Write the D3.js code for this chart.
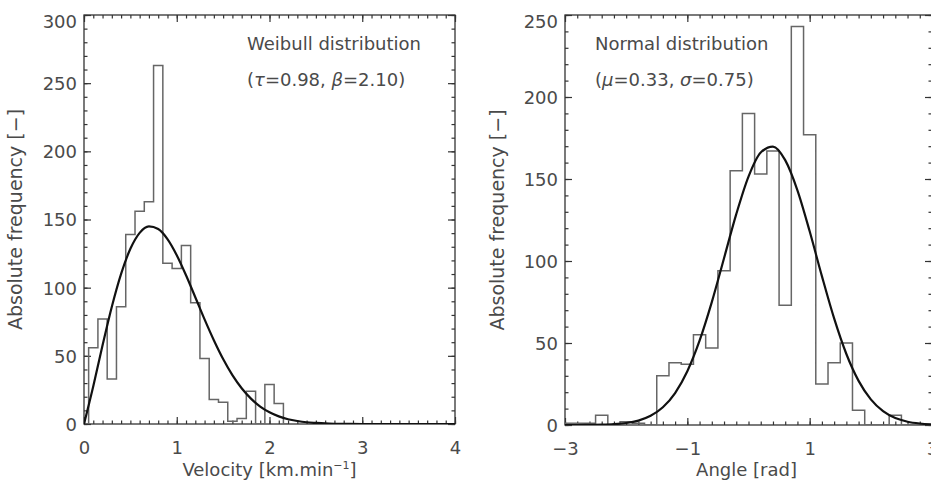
<!DOCTYPE html>
<html><head><meta charset="utf-8">
<script src="https://cdn.jsdelivr.net/npm/d3@7"></script>
<style>
body{margin:0;background:#fff}
svg text{font-family:"DejaVu Sans",sans-serif;fill:#4a4a4a}
</style>
</head><body>
<svg id="chart" width="931" height="482"></svg>
<script>
// ---- data ----
const velocityBinCenters = [0.0,0.1,0.2,0.3,0.4,0.5,0.6,0.7,0.8,0.9,1.0,1.1,1.2,1.3,1.4,1.5,1.6,1.7,1.8,1.9,2.0,2.1,2.2];
const velocityCounts     = [0,56,77,33,86,139,156,163,263,118,114,131,89,48,18,16,2,4,24,0,29,15,0];
const weibullX = [0,0.1,0.2,0.3,0.4,0.5,0.6,0.7,0.8,0.9,1.0,1.1,1.2,1.3,1.4,1.5,1.6,1.7,1.8,1.9,2.0,2.1,2.2,2.3,2.4,2.5,2.6,2.7,2.8,3.0,3.5,4.0];
const weibullY = [0,27.7,57.7,86.0,110.1,128.5,140.2,144.9,143.0,135.6,123.8,109.1,93.0,76.7,61.4,47.6,35.8,26.2,18.6,12.8,8.6,5.6,3.5,2.2,1.3,0.8,0.4,0.2,0.1,0,0,0];

const angleBinCenters = [-3.0,-2.8,-2.6,-2.4,-2.2,-2.0,-1.8,-1.6,-1.4,-1.2,-1.0,-0.8,-0.6,-0.4,-0.2,0.0,0.2,0.4,0.6,0.8,1.0,1.2,1.4,1.6,1.8,2.0,2.2,2.4,2.6,2.8,3.0];
const angleCounts     = [1,1,1,6,0,2,1,0,30,38,37,55,47,94,155,190,153,167,73,243,177,25,38,50,9,0,0,6,0,0,0];
const normalX = [-3.0,-2.8,-2.6,-2.4,-2.2,-2.0,-1.8,-1.6,-1.4,-1.2,-1.0,-0.8,-0.6,-0.4,-0.2,0.0,0.2,0.4,0.6,0.8,1.0,1.2,1.4,1.6,1.8,2.0,2.2,2.4,2.6,2.8,3.0];
const normalY = [0,0,0.1,0.2,0.5,1.2,2.7,5.6,10.8,19.5,32.8,51.4,74.9,101.7,128.6,151.5,166.2,169.8,161.5,143.1,118.1,90.8,65.0,43.3,26.9,15.6,8.4,4.2,2.0,0.9,0.35];

const velocityTicks = [0,1,2,3,4];
const velocityTickLabels = ["0","1","2","3","4"];
const leftCountTicks = [0,50,100,150,200,250,300];
const angleTicks = [-3,-1,1,3];
const angleTickLabels = ["\u22123","\u22121","1","3"];
const rightCountTicks = [0,50,100,150,200,250];

// ---- drawing ----
const svg = d3.select("#chart");

function panel(cfg){
  const x = d3.scaleLinear().domain(cfg.xDomain).range([cfg.left, cfg.right]);
  const y = d3.scaleLinear().domain(cfg.yDomain).range([cfg.bottom, cfg.top]);
  const g = svg.append("g");
  const clipId = "clip" + cfg.id;
  svg.append("clipPath").attr("id", clipId).append("rect")
    .attr("x", cfg.left).attr("y", cfg.top - 2)
    .attr("width", cfg.right - cfg.left).attr("height", cfg.bottom - cfg.top + 2);

  const minorX = x.ticks(cfg.xMinorCount);
  const minorY = y.ticks(cfg.yMinorCount);
  const axisStyle = sel => { sel.select(".domain").remove(); sel.selectAll("line").attr("stroke","#333").attr("stroke-width",1.2); };

  // minor ticks
  g.append("g").attr("transform",`translate(0,${cfg.bottom})`).call(d3.axisBottom(x).tickValues(minorX).tickSize(-3.5).tickFormat("")).call(axisStyle);
  g.append("g").attr("transform",`translate(0,${cfg.top})`).call(d3.axisTop(x).tickValues(minorX).tickSize(-3.5).tickFormat("")).call(axisStyle);
  g.append("g").attr("transform",`translate(${cfg.left},0)`).call(d3.axisLeft(y).tickValues(minorY).tickSize(-3.5).tickFormat("")).call(axisStyle);
  g.append("g").attr("transform",`translate(${cfg.right},0)`).call(d3.axisRight(y).tickValues(minorY).tickSize(-3.5).tickFormat("")).call(axisStyle);
  // major ticks
  const bx = g.append("g").attr("transform",`translate(0,${cfg.bottom})`)
    .call(d3.axisBottom(x).tickValues(cfg.xTicks).tickSize(-7).tickPadding(0).tickFormat((d,i)=>cfg.xLabels[i])).call(axisStyle);
  bx.selectAll("text").attr("y", 30).attr("dy", null).attr("font-size", 18).attr("font-family", null).attr("fill", null);
  g.append("g").attr("transform",`translate(0,${cfg.top})`).call(d3.axisTop(x).tickValues(cfg.xTicks).tickSize(-7).tickFormat("")).call(axisStyle);
  const ly = g.append("g").attr("transform",`translate(${cfg.left},0)`)
    .call(d3.axisLeft(y).tickValues(cfg.yTicks).tickSize(-7).tickPadding(0)).call(axisStyle);
  ly.selectAll(".tick text").attr("x", -7).attr("font-size", 18).attr("font-family", null).attr("fill", null)
    .attr("dy", "0.36em")
    .attr("y", d => Math.max(y(d), cfg.top + 6.5) - y(d));
  g.append("g").attr("transform",`translate(${cfg.right},0)`).call(d3.axisRight(y).tickValues(cfg.yTicks).tickSize(-7).tickFormat("")).call(axisStyle);
  g.selectAll(".tick text").style("fill","#4a4a4a");

  // box
  g.append("rect").attr("x", cfg.left).attr("y", cfg.top).attr("width", cfg.right - cfg.left).attr("height", cfg.bottom - cfg.top)
    .attr("fill","none").attr("stroke","#333").attr("stroke-width",1.3);

  const plot = g.append("g").attr("clip-path", `url(#${clipId})`);
  // histogram (stepped)
  const hist = d3.line().x(d=>x(d[0])).y(d=>y(d[1])).curve(d3.curveStep);
  plot.append("path").datum(d3.zip(cfg.binCenters, cfg.counts)).attr("d", hist)
    .attr("fill","none").attr("stroke","#666").attr("stroke-width",1.5);
  // fitted curve
  const fit = d3.line().x(d=>x(d[0])).y(d=>y(d[1])).curve(d3.curveMonotoneX);
  plot.append("path").datum(d3.zip(cfg.fitX, cfg.fitY)).attr("d", fit)
    .attr("fill","none").attr("stroke","#111").attr("stroke-width",2.2);

  // axis titles
  const xt = g.append("text").attr("x",(cfg.left+cfg.right)/2 + (cfg.xTitleShift||0)).attr("y",476).attr("text-anchor","middle").attr("font-size",18);
  cfg.xTitle(xt);
  g.append("text").attr("transform",`translate(${cfg.yTitleX},${(cfg.top+cfg.bottom)/2}) rotate(-90)`)
    .attr("text-anchor","middle").attr("font-size",19).text("Absolute frequency [\u2212]");

  // annotation
  g.append("text").attr("x", cfg.annX).attr("y", 50).attr("font-size",18).text(cfg.annTitle);
  const a2 = g.append("text").attr("x", cfg.annX).attr("y", 86).attr("font-size",18);
  cfg.annParams(a2);
  return {x,y};
}

panel({
  id:"L", left:84, right:455, top:15, bottom:424,
  xDomain:[0,4], yDomain:[0,300], xMinorCount:40, yMinorCount:30,
  xTicks:velocityTicks, xLabels:velocityTickLabels, yTicks:leftCountTicks,
  binCenters:velocityBinCenters, counts:velocityCounts, fitX:weibullX, fitY:weibullY,
  yTitleX:22,
  xTitle: t => { t.append("tspan").text("Velocity [km.min");
                 t.append("tspan").attr("dy",-7).attr("font-size",11).text("\u22121");
                 t.append("tspan").attr("dy",7).text("]"); },
  annX:247, annTitle:"Weibull distribution",
  annParams: t => { t.append("tspan").text("(");
                    t.append("tspan").attr("font-style","italic").text("\u03c4");
                    t.append("tspan").text("=0.98, ");
                    t.append("tspan").attr("font-style","italic").text("\u03b2");
                    t.append("tspan").text("=2.10)"); }
});

panel({
  id:"R", left:565, right:932, top:15, bottom:425,
  xDomain:[-3,3], yDomain:[0,250], xMinorCount:30, yMinorCount:25,
  xTicks:angleTicks, xLabels:angleTickLabels, yTicks:rightCountTicks,
  binCenters:angleBinCenters, counts:angleCounts, fitX:normalX, fitY:normalY,
  yTitleX:504, xTitleShift:-2,
  xTitle: t => { t.text("Angle [rad]"); },
  annX:595, annTitle:"Normal distribution",
  annParams: t => { t.append("tspan").text("(");
                    t.append("tspan").attr("font-style","italic").text("\u03bc");
                    t.append("tspan").text("=0.33, ");
                    t.append("tspan").attr("font-style","italic").text("\u03c3");
                    t.append("tspan").text("=0.75)"); }
});
</script>
</body></html>
